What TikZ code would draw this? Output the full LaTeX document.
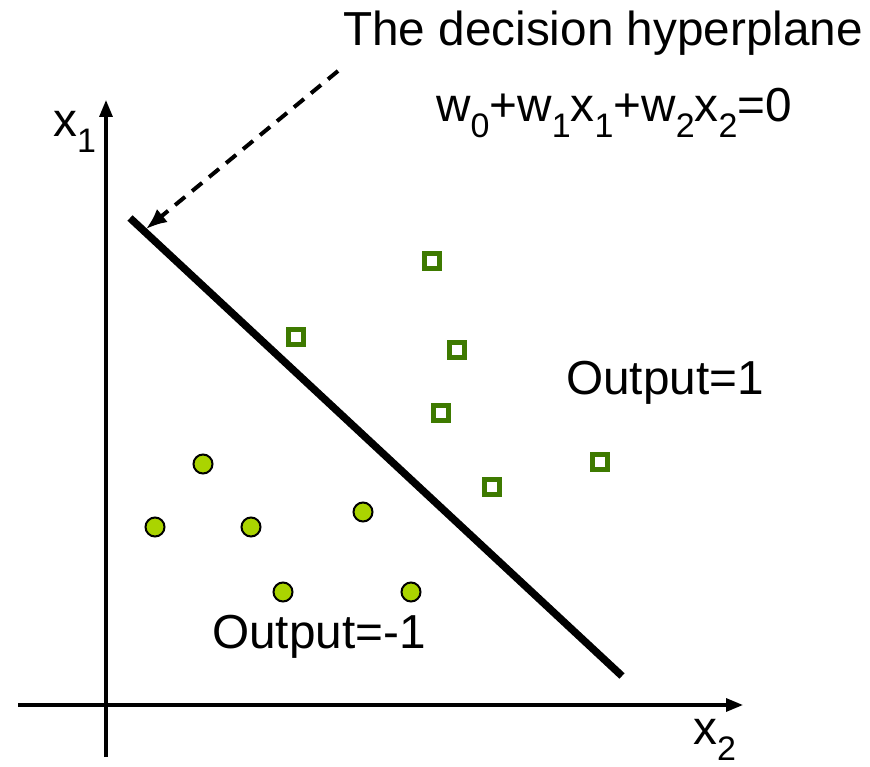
\documentclass[tikz,border=0pt]{standalone}
\usepackage{fontspec}
\setmainfont{Liberation Sans}
\usetikzlibrary{arrows.meta}
\definecolor{sqgreen}{RGB}{62,122,0}
\definecolor{dotgreen}{RGB}{170,212,0}
\newcommand\sbx[1]{\raisebox{-0.32em}{\fontsize{34}{34}\selectfont #1}}
\tikzset{
  lbl/.style={inner sep=0pt, font=\fontsize{47.7}{56}\selectfont},
  sq/.style={draw=sqgreen, line width=5pt, rectangle, minimum size=15pt, inner sep=0pt},
  dot/.style={draw=black, line width=2pt, circle, fill=dotgreen, minimum size=19pt, inner sep=0pt},
  axis/.style={line width=3.2pt, -{Triangle[length=17pt,width=13pt]}},
}
\begin{document}
\begin{tikzpicture}[x=1pt,y=-1pt]
\useasboundingbox (0,0) rectangle (870,767);
% axes
\coordinate (yb) at (106,757);
\coordinate (yt) at (106,100);
\coordinate (xl) at (18,705);
\coordinate (xr) at (743,705);
\draw[axis] (yb) -- (yt);
\draw[axis] (xl) -- (xr);
\node[lbl, anchor=west] (x1) at (53,132) {x\sbx{1}};
\node[lbl, anchor=west] (x2) at (693,740) {x\sbx{2}};
% decision line
\coordinate (la) at (130,218);
\coordinate (lb) at (622,676);
\draw[line width=7.5pt] (la) -- (lb);
% title and arrow
\node[lbl, anchor=west] (title) at (343,33) {The decision hyperplane};
\node[lbl, anchor=west] (eq) at (436,113) {w\sbx{0}+w\sbx{1}x\sbx{1}+w\sbx{2}x\sbx{2}=0};
\coordinate (ds) at (338,71);
\coordinate (dt) at (146,229);
\draw[line width=4pt, dash pattern=on 13pt off 9pt, -{Latex[length=21pt,width=17pt]}] (ds) -- (dt);
% squares
\node[sq] (s1) at (432,261) {};
\node[sq] (s2) at (296,337) {};
\node[sq] (s3) at (457,350) {};
\node[sq] (s4) at (441,413) {};
\node[sq] (s5) at (600,462) {};
\node[sq] (s6) at (492,487) {};
% dots
\node[dot] (c1) at (203,464) {};
\node[dot] (c2) at (155,527) {};
\node[dot] (c3) at (251,527) {};
\node[dot] (c4) at (363,512) {};
\node[dot] (c5) at (283,592) {};
\node[dot] (c6) at (411,592) {};
% region labels
\node[lbl, anchor=west] (o1) at (566,383) {Output=1};
\node[lbl, anchor=west] (o2) at (212,637) {Output=-1};
\end{tikzpicture}
\end{document}
